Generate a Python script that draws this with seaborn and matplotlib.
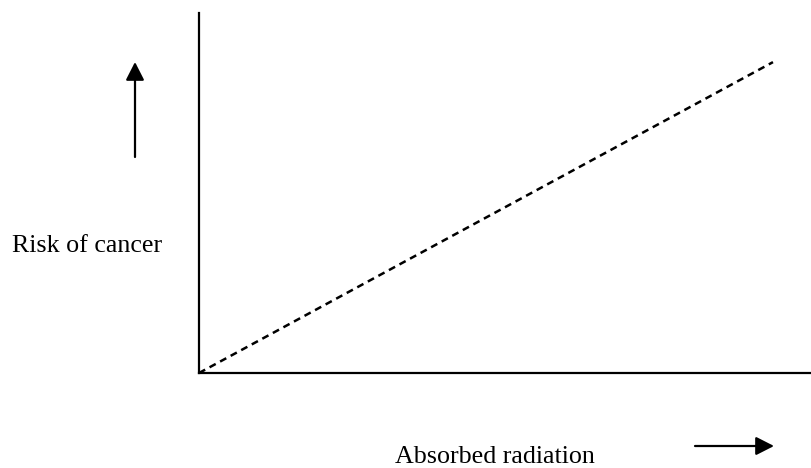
import matplotlib
matplotlib.use("Agg")
import matplotlib.pyplot as plt
import seaborn as sns
import pandas as pd

# Data
absorbed_radiation = [0, 100]
cancer_risk = [0, 100]
x_label = "Absorbed radiation"
y_label = "Risk of cancer"

sns.set_style("white")
plt.rcParams['font.family'] = ['Liberation Serif', 'DejaVu Serif']

W, H = 812, 468
fig = plt.figure(figsize=(W / 100, H / 100), dpi=100)
ax = fig.add_axes([199 / W, 1 - 373 / H, (W - 199) / W, (373 - 13) / H])

df = pd.DataFrame({"dose": absorbed_radiation, "risk": cancer_risk})
sns.lineplot(data=df, x="dose", y="risk", ax=ax, color="black",
             linewidth=1.8, linestyle=(0, (2.8, 2.0)))

ax.set_xlim(0, 106.8)
ax.set_ylim(0, 115.8)
ax.set_xticks([])
ax.set_yticks([])
ax.set_xlabel("")
ax.set_ylabel("")
for s in ["top", "right"]:
    ax.spines[s].set_visible(False)
for s in ["left", "bottom"]:
    ax.spines[s].set_color("black")
    ax.spines[s].set_linewidth(1.6)

fs = 18.7
fig.text(162 / W, 1 - 252 / H, y_label, ha="right", va="baseline",
         fontsize=fs, color="black")
fig.text(395 / W, 1 - 463 / H, x_label, ha="left", va="baseline",
         fontsize=fs, color="black")

arrow = dict(arrowstyle="-|>,head_length=0.55,head_width=0.28",
             color="black", lw=1.6, mutation_scale=20, shrinkA=0, shrinkB=0)
fig.add_artist(matplotlib.patches.FancyArrowPatch(
    (135 / W, 1 - 157 / H), (135 / W, 1 - 62 / H),
    transform=fig.transFigure, **arrow))
fig.add_artist(matplotlib.patches.FancyArrowPatch(
    (695 / W, 1 - 446 / H), (774 / W, 1 - 446 / H),
    transform=fig.transFigure, **arrow))

fig.savefig("out.png", dpi=100)
